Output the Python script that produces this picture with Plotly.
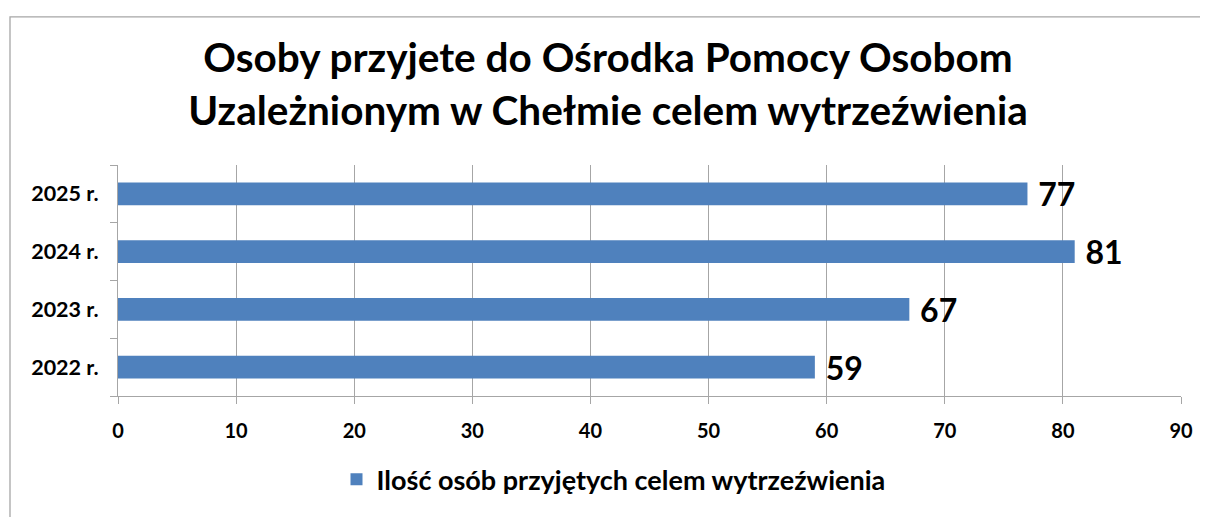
import plotly.graph_objects as go

categories = ["2022 r.", "2023 r.", "2024 r.", "2025 r."]
values = [59, 67, 81, 77]
series_name = "Ilość osób przyjętych celem wytrzeźwienia"
title_text = "Osoby przyjete do Ośrodka Pomocy Osobom<br>Uzależnionym w Chełmie celem wytrzeźwienia"
x_ticks = [0, 10, 20, 30, 40, 50, 60, 70, 80, 90]

FONT = "Lato"
OFF = 8  # browser body margin
W, H = 1208 - OFF, 517 - OFF
L, T = 118 - OFF, 165 - OFF
R = W - (1181 - OFF)
B = H - (402 - OFF)
pw, ph = W - L - R, H - T - B

def px_x(p):
    return (p - OFF - L) / pw

def px_y(p):
    return (H - B - (p - OFF)) / ph

fig = go.Figure()
fig.add_trace(go.Bar(
    y=categories, x=values, orientation="h", name=series_name,
    marker=dict(color="#4F81BD", line=dict(width=0)),
    width=0.39,
    text=values, texttemplate=" %{x}", textposition="outside",
    constraintext="none",
    textfont=dict(family=FONT, size=32, color="black", weight="bold"),
    cliponaxis=False, showlegend=True,
))

fig.update_layout(
    width=W, height=H,
    margin=dict(l=L, r=R, t=T, b=B),
    paper_bgcolor="white", plot_bgcolor="white",
    title=dict(text=title_text, x=0.5, xanchor="center", y=1 - (72 - OFF) / H, yanchor="middle",
               yref="container",
               font=dict(family=FONT, size=40.5, color="black", weight="bold")),
    xaxis=dict(range=[0, 90], tickvals=x_ticks, showgrid=True, gridcolor="#A6A6A6", gridwidth=1.3,
               showline=True, linecolor="#A6A6A6", linewidth=1.3, ticks="outside", ticklen=7,
               tickcolor="#A6A6A6", zeroline=False, ticklabelstandoff=10,
               tickfont=dict(family=FONT, size=20, color="black", weight="bold")),
    yaxis=dict(type="category", categoryorder="array", categoryarray=categories,
               showline=True, linecolor="#A6A6A6", linewidth=1.3, ticks="outside", ticklen=7,
               tickcolor="#A6A6A6", tickson="boundaries", showgrid=False, ticklabelstandoff=14,
               tickfont=dict(family=FONT, size=21.5, color="black", weight="bold")),
    bargap=0.6,
    legend=dict(orientation="h", x=0.5 - 36 / pw, xanchor="center", y=px_y(488), yanchor="middle",
                font=dict(family=FONT, size=27, color="black", weight="bold"),
                itemwidth=30),
    shapes=[dict(type="rect", xref="paper", yref="paper",
                 x0=px_x(10), x1=px_x(1240), y0=px_y(560), y1=px_y(13),
                 line=dict(color="#A6A6A6", width=1.3), layer="below")],
)

fig.write_html("out.html")
